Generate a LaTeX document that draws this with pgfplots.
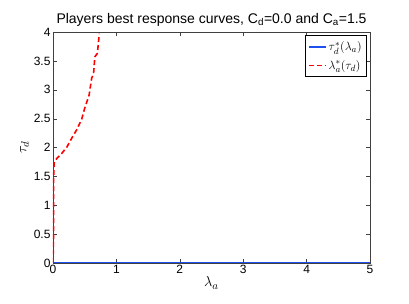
\documentclass[border=0pt]{standalone}
\usepackage{pgfplots}
\pgfplotsset{compat=1.18}
\usepackage{fontspec}
\setmainfont{Liberation Sans}
\definecolor{mblue}{RGB}{30,80,240}
\begin{document}
\begin{tikzpicture}
\useasboundingbox (-53pt,-41pt) rectangle (356pt,263pt);
\begin{axis}[
  scale only axis,
  width=317pt, height=231pt,
  xmin=0, xmax=5, ymin=0, ymax=4,
  xtick={0,1,2,3,4,5},
  ytick={0,0.5,1,1.5,2,2.5,3,3.5,4},
  tick align=inside,
  major tick length=4pt,
  axis line style={draw=black!75},
  tick style={draw=black!75},
  every tick label/.append style={font=\fontsize{12}{14}\selectfont},
  /pgf/number format/assume math mode=true,
  yticklabel style={/pgf/number format/fixed, xshift=1pt},
  xticklabel style={yshift=1pt},
  title={Players best response curves, C$_{\mathrm{d}}$=0.0 and C$_{\mathrm{a}}$=1.5},
  title style={font=\fontsize{14}{16}\selectfont, yshift=-4pt},
  xlabel={$\lambda_a$},
  ylabel={$\tau_d$},
  xlabel style={font=\fontsize{15}{17}\selectfont, yshift=4pt},
  ylabel style={font=\fontsize{15}{17}\selectfont, yshift=-2pt},
  legend style={at={(0.99,0.985)}, anchor=north east, font=\fontsize{13}{15}\selectfont, nodes={inner ysep=4pt}},
  legend cell align=left,
]
\addplot[color=mblue, line width=1.6pt] coordinates {(0,0.01) (5,0.01)};
\addlegendentry{$\tau^*_d(\lambda_a)$}
\addplot[color=red, line width=1.6pt, dash pattern=on 5pt off 3pt] coordinates {
(0,0) (0.01,0.5) (0.01,1.0) (0.01,1.5) (0.02,1.75) (0.06,1.81) (0.14,1.9) (0.22,2.01) (0.3,2.17) (0.37,2.30) (0.45,2.48) (0.50,2.68) (0.57,2.91) (0.61,3.20) (0.64,3.28) (0.66,3.57) (0.70,3.63) (0.73,3.97)};
\addlegendentry{$\lambda^*_a(\tau_d)$}
\end{axis}
\end{tikzpicture}
\end{document}
